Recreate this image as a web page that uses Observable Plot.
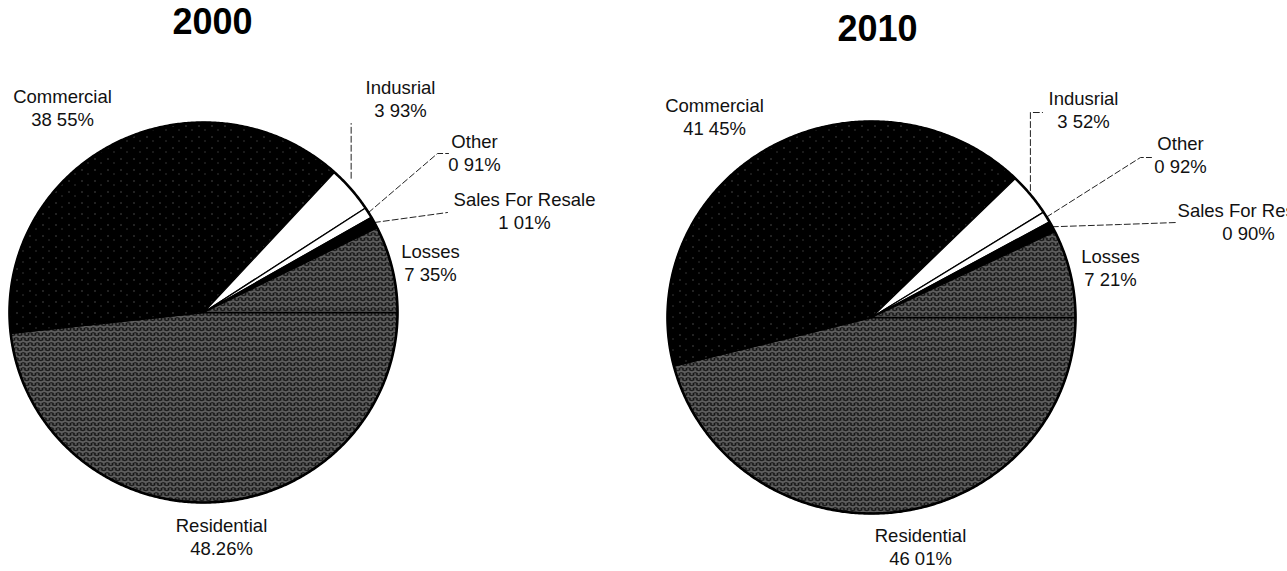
<!DOCTYPE html>
<html><head><meta charset="utf-8">
<script src="https://cdn.jsdelivr.net/npm/d3@7"></script>
<script src="https://cdn.jsdelivr.net/npm/@observablehq/plot@0.6"></script>
<style>
html,body{margin:0;padding:0;background:#fff;}
#chart{width:1287px;height:571px;overflow:hidden;}
</style>
</head><body><div id="chart"></div>
<script>
// ---------------- DATA ----------------
const years = ["2000", "2010"];
const categories = ["Residential", "Commercial", "Indusrial", "Other", "Sales For Resale", "Losses"];
const values2000 = [48.26, 38.55, 3.93, 0.91, 1.01, 7.35];
const values2010 = [46.01, 41.45, 3.52, 0.92, 0.90, 7.21];
const valueLabels2000 = ["48.26%", "38 55%", "3 93%", "0 91%", "1 01%", "7 35%"];
const valueLabels2010 = ["46 01%", "41 45%", "3 52%", "0 92%", "0 90%", "7 21%"];

// ---------------- LAYOUT / STYLE ----------------
const W = 1287, H = 571;
const FONT = "Liberation Sans, Arial, Helvetica, sans-serif";
const pies = [
  {cx: 203, cy: 312, rx: 194, ry: 190, title: [212, 22],
   labels: [[221, 526], [62, 97], [400, 88], [474, 142], [524, 200], [430, 252]],
   leaders: {2: {dy: -11, pts: [[null, 123]]}, 3: {pts: [[437, 153], [448, 153]]}, 4: {pts: [[447, 212]]}}},
  {cx: 871, cy: 317, rx: 204, ry: 196, title: [877, 29],
   labels: [[920, 536], [714, 106], [1083, 99], [1180, 144], [1248, 211], [1110, 257]],
   leaders: {2: {dy: -4, pts: [[null, 112], [1042, 112]]}, 3: {pts: [[1140, 157], [1151, 157]]}, 4: {pts: [[1120, 224], [1176, 222]]}}}
];
const fills = ["url(#resid)", "url(#comm)", "#ffffff", "#ffffff", "#000000", "url(#resid)"];
const LINE_GAP = 23;

const series = [values2000, values2010];
const valueLabels = [valueLabels2000, valueLabels2010];

const pieGen = d3.pie().sort(null).startAngle(Math.PI / 2).endAngle(Math.PI / 2 + 2 * Math.PI);

const marks = [];
const textRows = [];
const titleRows = [];

series.forEach((vals, p) => {
  const P = pies[p];
  const pt = (a, k = 1) => ({x: P.cx + k * P.rx * Math.sin(a), y: P.cy - k * P.ry * Math.cos(a)});
  const arcs = pieGen(vals);
  arcs.forEach((a, i) => {
    const pts = [{x: P.cx, y: P.cy}];
    const n = Math.max(2, Math.ceil((a.endAngle - a.startAngle) / (Math.PI / 360)));
    for (let j = 0; j <= n; j++) pts.push(pt(a.startAngle + (a.endAngle - a.startAngle) * j / n));
    pts.push({x: P.cx, y: P.cy});
    marks.push(Plot.line(pts, {x: "x", y: "y", fill: fills[i], stroke: "#000", strokeWidth: 1.3, strokeLinejoin: "round"}));
    const [lx, ly] = P.labels[i];
    textRows.push({x: lx, y: ly, t: categories[i]});
    textRows.push({x: lx, y: ly + LINE_GAP, t: valueLabels[p][i]});
    const L = P.leaders[i];
    if (L) {
      const mid = (a.startAngle + a.endAngle) / 2;
      const s = pt(mid);
      const lp = [{x: s.x, y: s.y + (L.dy || 0)}];
      L.pts.forEach(([x, y]) => lp.push({x: x == null ? s.x : x, y}));
      marks.push(Plot.line(lp, {x: "x", y: "y", stroke: "#222", strokeWidth: 1, strokeDasharray: "6,3"}));
    }
  });
  const ring = d3.range(0, 721).map(j => pt(j / 720 * 2 * Math.PI));
  marks.push(Plot.line(ring, {x: "x", y: "y", stroke: "#000", strokeWidth: 2.6}));
  titleRows.push({x: P.title[0], y: P.title[1], t: years[p]});
});

marks.push(Plot.text(textRows, {x: "x", y: "y", text: "t", fontSize: 18.5, fill: "#111", fontFamily: FONT}));
marks.push(Plot.text(titleRows, {x: "x", y: "y", text: "t", fontSize: 36, fontWeight: "bold", fill: "#000", fontFamily: FONT}));

const svg = Plot.plot({
  width: W, height: H,
  margin: 0,
  x: {domain: [0, W], range: [0, W], axis: null},
  y: {domain: [0, H], range: [0, H], axis: null},
  style: {background: "#fff", fontFamily: FONT, overflow: "hidden"},
  marks
});

d3.select(svg).insert("defs", ":first-child").html(`
  <pattern id="resid" patternUnits="userSpaceOnUse" width="7" height="5">
    <rect width="7" height="5" fill="#151515"/>
    <path d="M0,1.2 Q1.75,0 3.5,1.2 T7,1.2" stroke="#f4f4f4" stroke-width="0.7" fill="none"/>
    <circle cx="1.7" cy="3.7" r="0.6" fill="#ddd"/>
    <circle cx="5.2" cy="3.6" r="0.65" fill="#e8e8e8"/>
  </pattern>
  <pattern id="comm" patternUnits="userSpaceOnUse" width="13" height="11">
    <rect width="13" height="11" fill="#000"/>
    <rect x="3" y="4" width="1" height="1" fill="#8a8a8a"/>
    <rect x="9" y="8" width="1" height="1" fill="#666"/>
  </pattern>`);

document.getElementById("chart").appendChild(svg);
</script>
</body></html>
